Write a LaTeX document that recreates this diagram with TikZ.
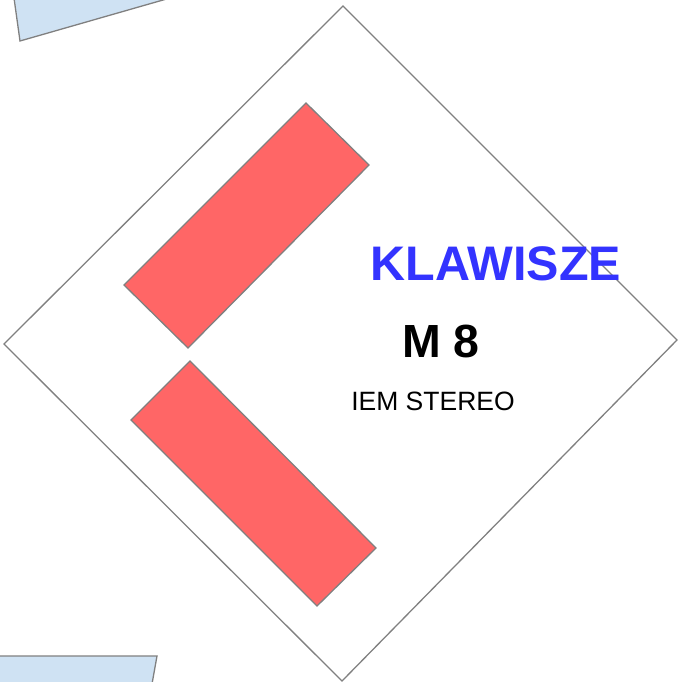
\documentclass[tikz,border=0pt]{standalone}
\usepackage{fontspec}
\setmainfont{Liberation Sans}
\usetikzlibrary{positioning}
\definecolor{edgegray}{RGB}{128,128,128}
\definecolor{wedgered}{RGB}{255,102,102}
\definecolor{paleblue}{RGB}{207,226,243}
\definecolor{labelblue}{RGB}{51,51,255}

\begin{document}
\begin{tikzpicture}[x=1pt,y=-1pt,line width=1.3pt]
\useasboundingbox (0,0) rectangle (677,682);
% neighbouring shapes cut by the page edge
\fill[paleblue] (14,-2) -- (20,41) -- (170,-2) -- cycle;
\draw[edgegray] (14,-2) -- (20,41) -- (170,-2);
\fill[paleblue] (-2,656) -- (157,656) -- (152,684) -- (-2,684) -- cycle;
\draw[edgegray] (-2,656) -- (157,656) -- (152,684);
% stage area
\draw[edgegray] (343,6) -- (677,340) -- (342,681) -- (4,344) -- cycle;
\draw[edgegray,fill=wedgered] (306,103) -- (369,165) -- (188,348) -- (124,285) -- cycle;
\draw[edgegray,fill=wedgered] (190,361) -- (376,548) -- (317,606) -- (131,420) -- cycle;
\node[text=labelblue,font=\bfseries\fontsize{48.5}{48.5}\selectfont] (title) at (496,264) {KLAWISZE};
\node[font=\bfseries\fontsize{46.5}{46.5}\selectfont] (mix) at (441,341) {M 8};
\node[font=\fontsize{26.5}{26.5}\selectfont] (iem) at (433,401) {IEM STEREO};
\end{tikzpicture}
\end{document}
